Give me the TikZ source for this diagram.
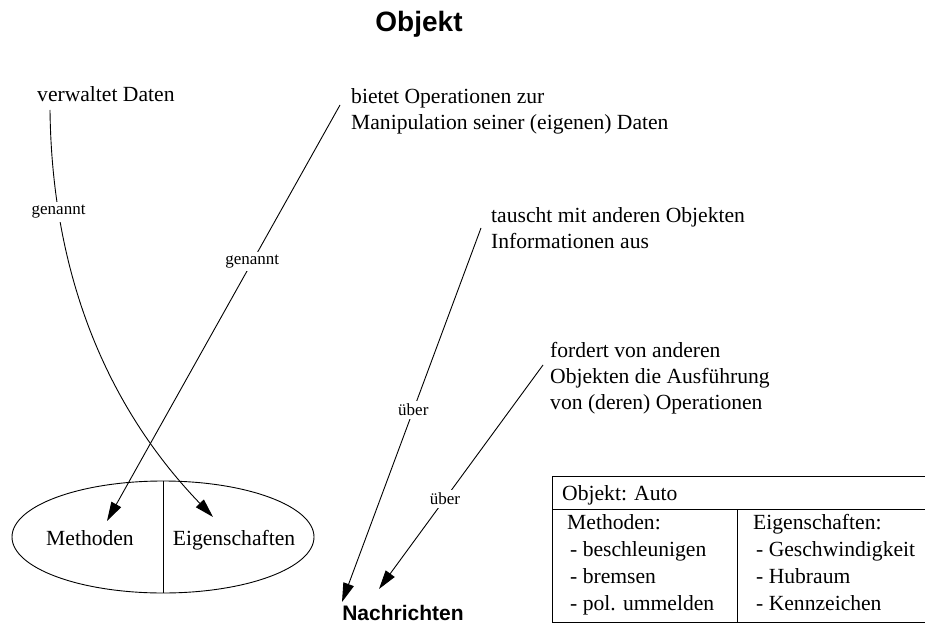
\documentclass[tikz,border=0pt]{standalone}
\usepackage{fontspec}
\setmainfont{Liberation Serif}
\setsansfont{Liberation Sans}
\usetikzlibrary{arrows.meta,shapes.geometric}

\begin{document}
\begin{tikzpicture}[x=1pt,y=-1pt,
  % multi-line texts: the base anchor sits on the last line
  txt/.style={font=\fontsize{21.6}{26}\selectfont, inner sep=0pt, align=left, anchor=base west},
  boxtxt/.style={font=\fontsize{21.6}{27}\selectfont, inner sep=0pt, align=left, anchor=base west},
  part/.style={font=\fontsize{21.6}{26}\selectfont, inner sep=0pt, anchor=base},
  headline/.style={font=\sffamily\bfseries\fontsize{28}{32}\selectfont, inner sep=0pt, anchor=base},
  target/.style={font=\sffamily\bfseries\fontsize{21}{25}\selectfont, inner sep=0pt, anchor=base},
  lbl/.style={font=\fontsize{17}{19}\selectfont, fill=white, inner sep=3pt},
  conn/.style={line width=0.9pt, -{Triangle[length=19pt,width=11pt]}},
  outline/.style={line width=0.9pt}]

\useasboundingbox (0,0) rectangle (925,628);

% heading
\node[headline] (title) at (419,32) {Objekt};

% statements about an object
\node[txt] (vd) at (37,102) {verwaltet Daten};
\node[txt] (bo) at (351,130) {bietet Operationen zur\\Manipulation seiner (eigenen) Daten};
\node[txt] (ta) at (491,248) {tauscht mit anderen Objekten\\Informationen aus};
\node[txt] (fo) at (550,409) {fordert von anderen\\Objekten die Ausführung\\von (deren) Operationen};

% object as an ellipse split into methods and properties
\node[ellipse, draw, outline, minimum width=302pt, minimum height=112pt, inner sep=0pt] (obj) at (163,537) {};
\draw[outline] (obj.north) -- (obj.south);
\node[part] (me) at (90,545) {Methoden};
\node[part] (ei) at (234,545) {Eigenschaften};

% messages
\node[target] (na) at (403,620) {Nachrichten};

% connectors
\draw[conn] ([shift={(13,8)}]vd.base west) .. controls (52,280) and (110,410) ..
  node[lbl, pos=0.21] {genannt} ([shift={(-21,-28)}]ei.base);
\draw[conn] ([shift={(-11,-25)}]bo.base west) --
  node[lbl, pos=0.377] {genannt} ([shift={(17,-24)}]me.base);
\draw[conn] ([shift={(-10,-20)}]ta.base west) --
  node[lbl, pos=0.487] {über} ([shift={(-61,-18)}]na.base);
\draw[conn] ([shift={(-7,-44)}]fo.base west) --
  node[lbl, pos=0.598] {über} ([shift={(-24,-31)}]na.base);

% example object card, running off to the right
\draw[outline] (925,476) -- (552,476) -- (552,622) -- (925,622);
\draw[outline] (552,509) -- (925,509);
\draw[outline] (737,509) -- (737,622);
\node[boxtxt] (cardhead) at (562,500) {Objekt: Auto};
\node[boxtxt] (cardm) at (567,610) {Methoden:\\\hspace{3pt}- beschleunigen\\\hspace{3pt}- bremsen\\\hspace{3pt}- pol. ummelden};
\node[boxtxt] (carde) at (753,610) {Eigenschaften:\\\hspace{3pt}- Geschwindigkeit\\\hspace{3pt}- Hubraum\\\hspace{3pt}- Kennzeichen};

\end{tikzpicture}
\end{document}
